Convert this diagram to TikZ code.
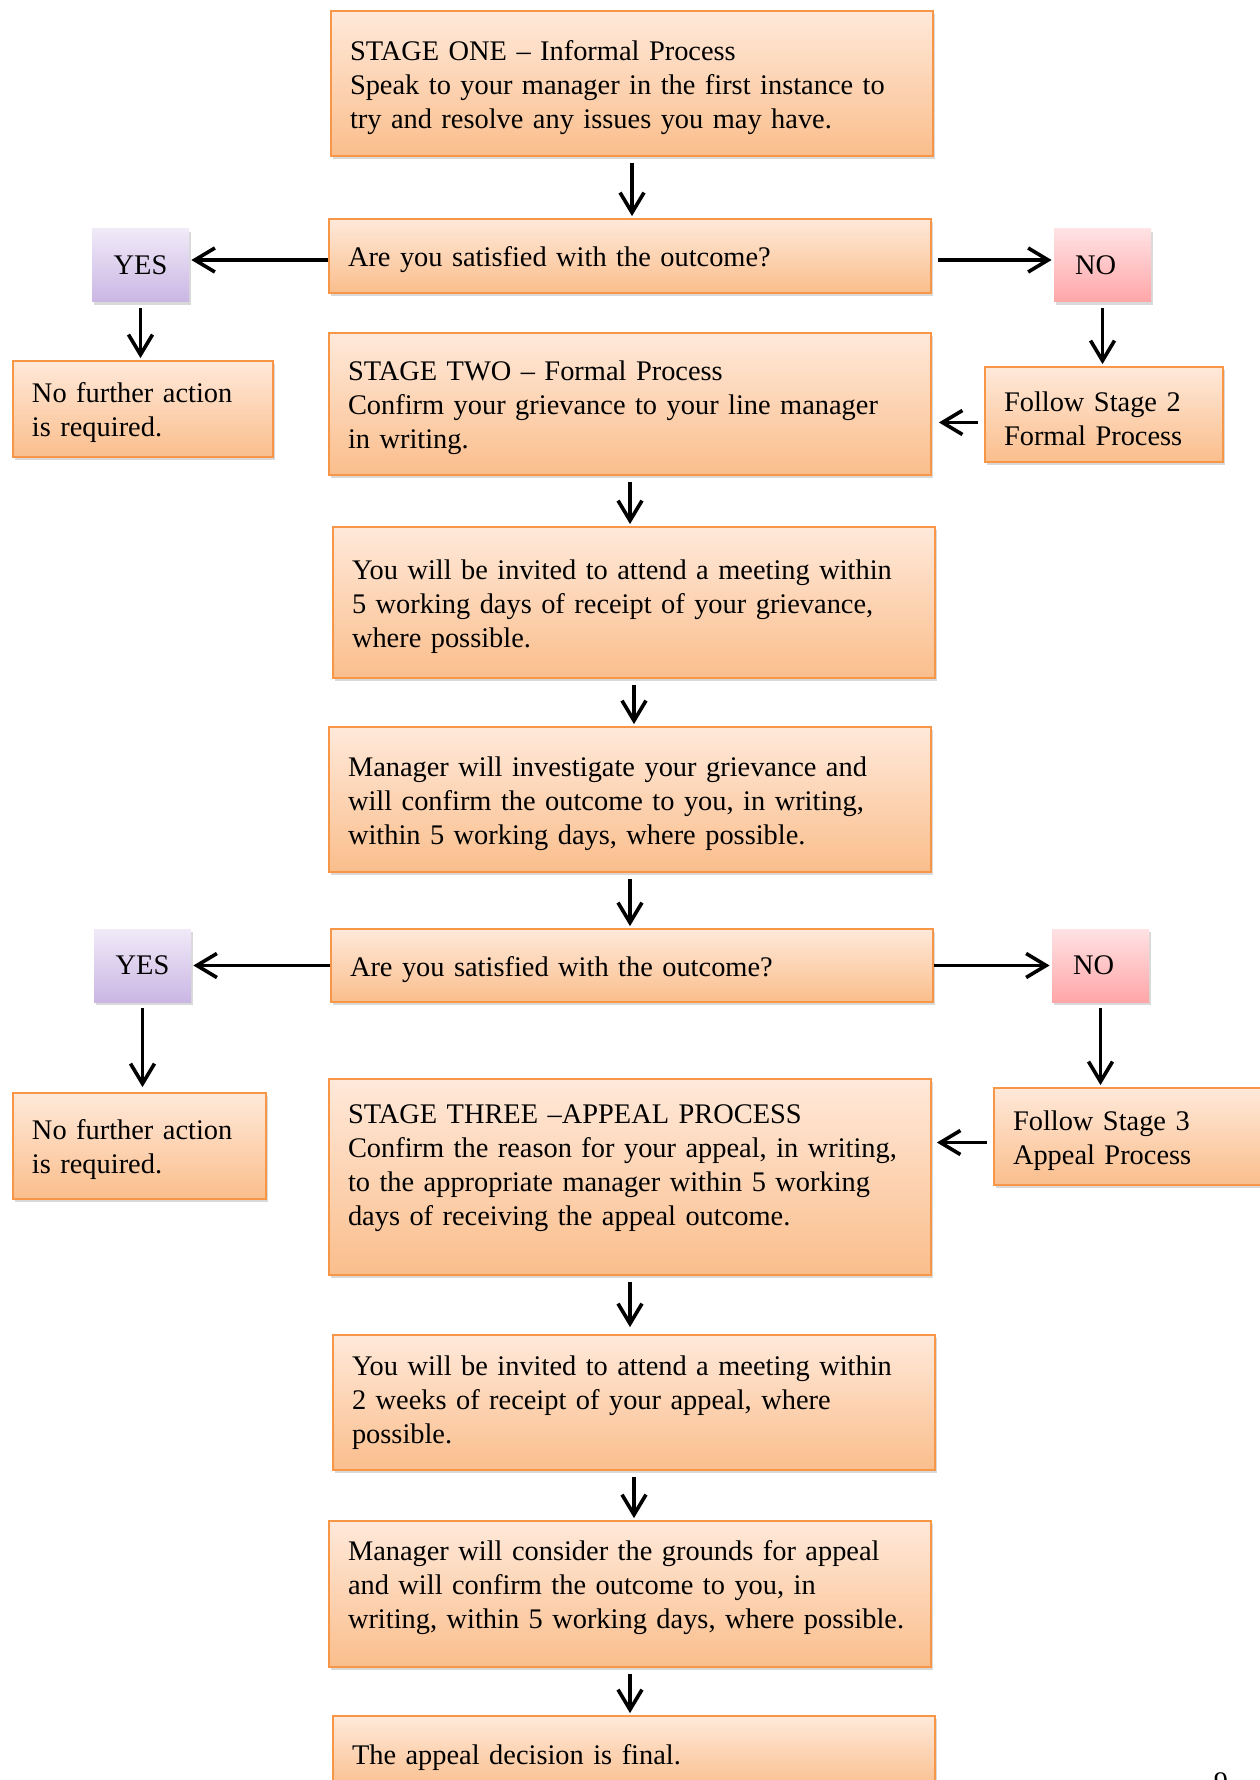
\documentclass[tikz,border=0pt]{standalone}
\usepackage{fontspec}
\setmainfont{Liberation Serif}
\usetikzlibrary{arrows.meta,shadows}

\definecolor{boxline}{RGB}{247,150,70}
\definecolor{boxtop}{RGB}{255,233,218}
\definecolor{boxbot}{RGB}{250,190,140}
\definecolor{yestop}{RGB}{240,234,248}
\definecolor{yesbot}{RGB}{202,182,228}
\definecolor{notop}{RGB}{255,226,228}
\definecolor{nobot}{RGB}{255,166,168}

\hyphenpenalty=10000
\exhyphenpenalty=10000

\begin{document}
\begin{tikzpicture}[x=0.5pt,y=-0.5pt,
		every node/.style={font=\fontsize{14.2}{17}\selectfont},
		basebox/.style={draw=boxline, line width=0.9pt, top color=boxtop, bottom color=boxbot,
			drop shadow={shadow xshift=1.2pt, shadow yshift=-1.6pt, opacity=0.3},
			align=left, inner xsep=9.5pt, inner ysep=3pt},
		stepbox/.style={basebox, execute at begin node={\rule{0pt}{14pt}}},
		mainbox/.style={stepbox, text width=282pt},
		flatbox/.style={basebox, text width=282pt},
		answer/.style={minimum width=48.5pt, minimum height=36.5pt, inner sep=0pt,
			drop shadow={shadow xshift=1.2pt, shadow yshift=-1.6pt, opacity=0.3}},
		arr/.style={line width=1.8pt, -{Straight Barb[length=10pt,width=12pt]}, shorten <=3pt, shorten >=1pt}]
		\useasboundingbox (0,0) rectangle (1259,1780);

		\node[mainbox, minimum height=72.5pt] (stageone) at (632,83.5) {STAGE ONE – Informal Process\\Speak to your manager in the first instance to\\try and resolve any issues you may have.};
		\node[mainbox, minimum height=37pt] (qone) at (630,256) {Are you satisfied with the outcome?};
		\node[answer, top color=yestop, bottom color=yesbot] (yesone) at (140.5,265.5) {YES};
		\node[answer, top color=notop, bottom color=nobot] (noone) at (1102.5,265.5) {NO\rule{7pt}{0pt}};
		\node[stepbox, text width=111pt, minimum height=48pt] (nfaone) at (143,409) {No further action\\is required.};
		\node[stepbox, text width=100pt, minimum height=47.5pt] (followtwo) at (1104,414.5) {Follow Stage 2\\Formal Process};
		\node[mainbox, minimum height=71pt] (stagetwo) at (630,404) {STAGE TWO – Formal Process\\Confirm your grievance to your line manager\\in writing.};
		\node[mainbox, minimum height=75.5pt] (meetone) at (634,602.5) {You will be invited to attend a meeting within\\5 working days of receipt of your grievance,\\where possible.};
		\node[mainbox, minimum height=72.5pt] (invone) at (630,799.5) {Manager will investigate your grievance and\\will confirm the outcome to you, in writing,\\within 5 working days, where possible.};
		\node[mainbox, minimum height=36.5pt] (qtwo) at (632,965.5) {Are you satisfied with the outcome?};
		\node[answer, top color=yestop, bottom color=yesbot] (yestwo) at (142.5,965.5) {YES};
		\node[answer, top color=notop, bottom color=nobot] (notwo) at (1100.5,965.5) {NO\rule{7pt}{0pt}};
		\node[stepbox, text width=107.5pt, minimum height=53pt] (nfatwo) at (139.5,1146) {No further action\\is required.};
		\node[stepbox, text width=119pt, minimum height=48.5pt] (followthree) at (1132,1136.5) {Follow Stage 3\\Appeal Process};
		\node[mainbox, minimum height=98pt] (stagethree) at (630,1177) {STAGE THREE –APPEAL PROCESS\\Confirm the reason for your appeal, in writing,\\to the appropriate manager within 5 working\\days of receiving the appeal outcome.\\\mbox{}};
		\node[flatbox, minimum height=67.5pt] (meettwo) at (634,1402.5) {You will be invited to attend a meeting within\\2 weeks of receipt of your appeal, where\\possible.};
		\node[flatbox, minimum height=73pt] (invtwo) at (630,1594) {Manager will consider the grounds for appeal\\and will confirm the outcome to you, in\\writing, within 5 working days, where possible.\\[-7pt]\mbox{}};
		\node[mainbox, minimum height=37pt] (final) at (634,1753) {The appeal decision is final.};
		\node[anchor=north, inner sep=0pt] (pagenum) at (1221,1772) {9};

		\draw[arr] (stageone.south) -- (stageone.south |- qone.north);
		\draw[arr, shorten <=0pt] ([yshift=-2pt]qone.west) -- ([yshift=-2pt]qone.west -| yesone.east);
		\draw[arr] ([yshift=-2pt]qone.east) -- ([yshift=-2pt]qone.east -| noone.west);
		\draw[arr] (yesone.south) -- (yesone.south |- nfaone.north);
		\draw[arr] (noone.south) -- (noone.south |- followtwo.north);
		\draw[arr, shorten >=3.5pt] ([yshift=-4pt]followtwo.west) -- ([yshift=-4pt]followtwo.west -| stagetwo.east);
		\draw[arr] (stagetwo.south) -- (stagetwo.south |- meetone.north);
		\draw[arr] (meetone.south) -- (meetone.south |- invone.north);
		\draw[arr] (invone.south) -- (invone.south |- qtwo.north);
		\draw[arr, shorten <=0pt] (qtwo.west) -- (qtwo.west -| yestwo.east);
		\draw[arr, shorten <=0pt] (qtwo.east) -- (qtwo.east -| notwo.west);
		\draw[arr, shorten >=2.5pt] (yestwo.south) -- (yestwo.south |- nfatwo.north);
		\draw[arr] (notwo.south) -- (notwo.south |- followthree.north);
		\draw[arr, shorten >=2.5pt] ([yshift=-3pt]followthree.west) -- ([yshift=-3pt]followthree.west -| stagethree.east);
		\draw[arr, shorten >=3.5pt] (stagethree.south) -- (stagethree.south |- meettwo.north);
		\draw[arr] (meettwo.south) -- (meettwo.south |- invtwo.north);
		\draw[arr] (invtwo.south) -- (invtwo.south |- final.north);
\end{tikzpicture}
\end{document}
